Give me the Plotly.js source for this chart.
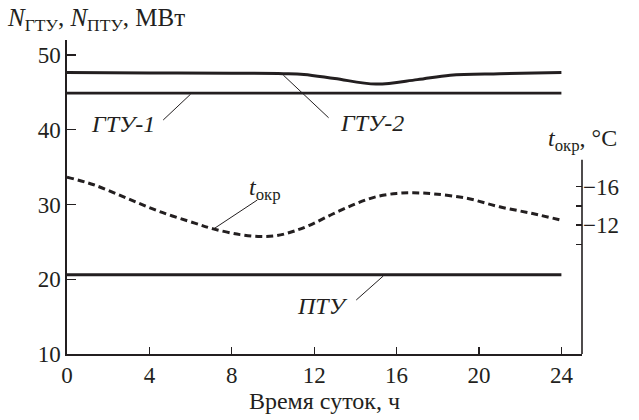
<!DOCTYPE html>
<html>
<head>
<meta charset="utf-8">
<script src="https://cdn.plot.ly/plotly-3.0.1.min.js"></script>
<style>
html,body{margin:0;padding:0;background:#fff}
#chart{width:639px;height:420px}
</style>
</head>
<body>
<div id="chart"></div>
<script>
// Data
const hoursFlat = [0, 24];
const gtu1 = [44.9, 44.9];
const pty = [20.6, 20.6];

const hoursGtu2 = [0, 4, 8, 10.5, 11.5, 13.0, 15.0, 17.0, 18.6, 21, 24];
const gtu2 = [47.65, 47.6, 47.55, 47.5, 47.4, 46.85, 46.1, 46.7, 47.3, 47.5, 47.65];

const hoursTemp = [0, 1.3, 2.9, 4.5, 6.2, 7.1, 8.4, 9.4, 10.2, 11.0, 11.8, 12.9, 14.0, 15.0, 16.0, 16.8, 17.8, 19.4, 21, 22.6, 24];
const tempOkr = [-17.0, -16.2, -14.8, -13.4, -12.2, -11.6, -11.0, -10.8, -10.9, -11.35, -12.0, -13.15, -14.2, -14.95, -15.3, -15.37, -15.25, -14.8, -13.9, -13.2, -12.5];

const xTicks = [0, 4, 8, 12, 16, 20, 24];
const yTicks = [10, 20, 30, 40, 50];
const y2Ticks = [-16, -14, -12, -10];
const y2TickText = ['\u221216', '', '\u221212', ''];

const ink = '#231f20';
const font = '"Liberation Serif", "DejaVu Serif", serif';

const traces = [
  {x: hoursFlat, y: gtu1, mode: 'lines', line: {color: ink, width: 2.6}, hoverinfo: 'skip'},
  {x: hoursFlat, y: pty, mode: 'lines', line: {color: ink, width: 3}, hoverinfo: 'skip'},
  {x: hoursGtu2, y: gtu2, mode: 'lines', line: {color: ink, width: 3, shape: 'spline', smoothing: 1}, hoverinfo: 'skip'},
  {x: hoursTemp, y: tempOkr, yaxis: 'y2', mode: 'lines', line: {color: ink, width: 3, dash: '7px,4px', shape: 'spline', smoothing: 1}, hoverinfo: 'skip'}
];

const layout = {
  width: 639, height: 420,
  margin: {l: 67, r: 57, t: 40, b: 66},
  paper_bgcolor: '#fff', plot_bgcolor: '#fff',
  showlegend: false,
  font: {family: font, size: 23, color: ink},
  xaxis: {
    range: [0, 25], showgrid: false, zeroline: false,
    showline: true, linecolor: ink, linewidth: 1.6,
    ticks: 'inside', ticklen: 7, tickwidth: 1.3, tickcolor: ink,
    tickmode: 'array', tickvals: xTicks,
    tickfont: {family: font, size: 23, color: ink},
    title: {text: 'Время суток, ч', font: {family: font, size: 24, color: ink}, standoff: 0}
  },
  yaxis: {
    range: [10, 52], showgrid: false, zeroline: false,
    showline: true, linecolor: ink, linewidth: 1.6,
    ticks: 'inside', ticklen: 9, tickwidth: 1.3, tickcolor: ink,
    tickmode: 'array', tickvals: yTicks,
    tickfont: {family: font, size: 23, color: ink}
  },
  yaxis2: {
    overlaying: 'y', side: 'right', anchor: 'x',
    range: [1.46, -31.31], showgrid: false, zeroline: false, showline: false,
    ticks: 'inside', ticklen: 6, tickwidth: 1.3, tickcolor: ink,
    tickmode: 'array', tickvals: y2Ticks, ticktext: y2TickText,
    tickfont: {family: font, size: 23, color: ink}
  },
  shapes: [
    {type: 'line', xref: 'paper', x0: 1, x1: 1, yref: 'y2', y0: -18.8, y1: 1.46, line: {color: ink, width: 1.6}},
    {type: 'line', xref: 'x', yref: 'y', x0: 4.67, y0: 41.3, x1: 6.0, y1: 44.75, line: {color: ink, width: 1}},
    {type: 'line', xref: 'x', yref: 'y', x0: 10.5, y0: 47.3, x1: 12.7, y1: 41.6, line: {color: ink, width: 1}},
    {type: 'line', xref: 'x', yref: 'y', x0: 7.11, y0: 26.72, x1: 9.24, y1: 30.6, line: {color: ink, width: 1}},
    {type: 'line', xref: 'x', yref: 'y', x0: 14.04, y0: 17.22, x1: 15.36, y1: 20.45, line: {color: ink, width: 1}}
  ],
  annotations: [
    {xref: 'paper', yref: 'paper', x: -0.12, y: 1.064, xanchor: 'left', yanchor: 'middle', showarrow: false,
     text: '<i>N</i><sub>ГТУ</sub>, <i>N</i><sub>ПТУ</sub>, МВт', font: {family: font, size: 25, color: ink}},
    {xref: 'paper', yref: 'paper', x: 0.93, y: 0.68, xanchor: 'left', yanchor: 'middle', showarrow: false,
     text: '<i>t</i><sub>окр</sub>, °C', font: {family: font, size: 24, color: ink}},
    {xref: 'x', yref: 'y', x: 2.7, y: 40.8, xanchor: 'center', yanchor: 'middle', showarrow: false,
     text: '<i>ГТУ-1</i>', font: {family: font, size: 24, color: ink}},
    {xref: 'x', yref: 'y', x: 14.8, y: 40.9, xanchor: 'center', yanchor: 'middle', showarrow: false,
     text: '<i>ГТУ-2</i>', font: {family: font, size: 24, color: ink}},
    {xref: 'x', yref: 'y', x: 9.59, y: 32.1, xanchor: 'center', yanchor: 'middle', showarrow: false,
     text: '<i>t</i><sub>окр</sub>', font: {family: font, size: 24, color: ink}},
    {xref: 'x', yref: 'y', x: 12.4, y: 16.4, xanchor: 'center', yanchor: 'middle', showarrow: false,
     text: '<i>ПТУ</i>', font: {family: font, size: 24, color: ink}}
  ]
};

Plotly.newPlot('chart', traces, layout, {staticPlot: true, displayModeBar: false});
</script>
</body>
</html>
